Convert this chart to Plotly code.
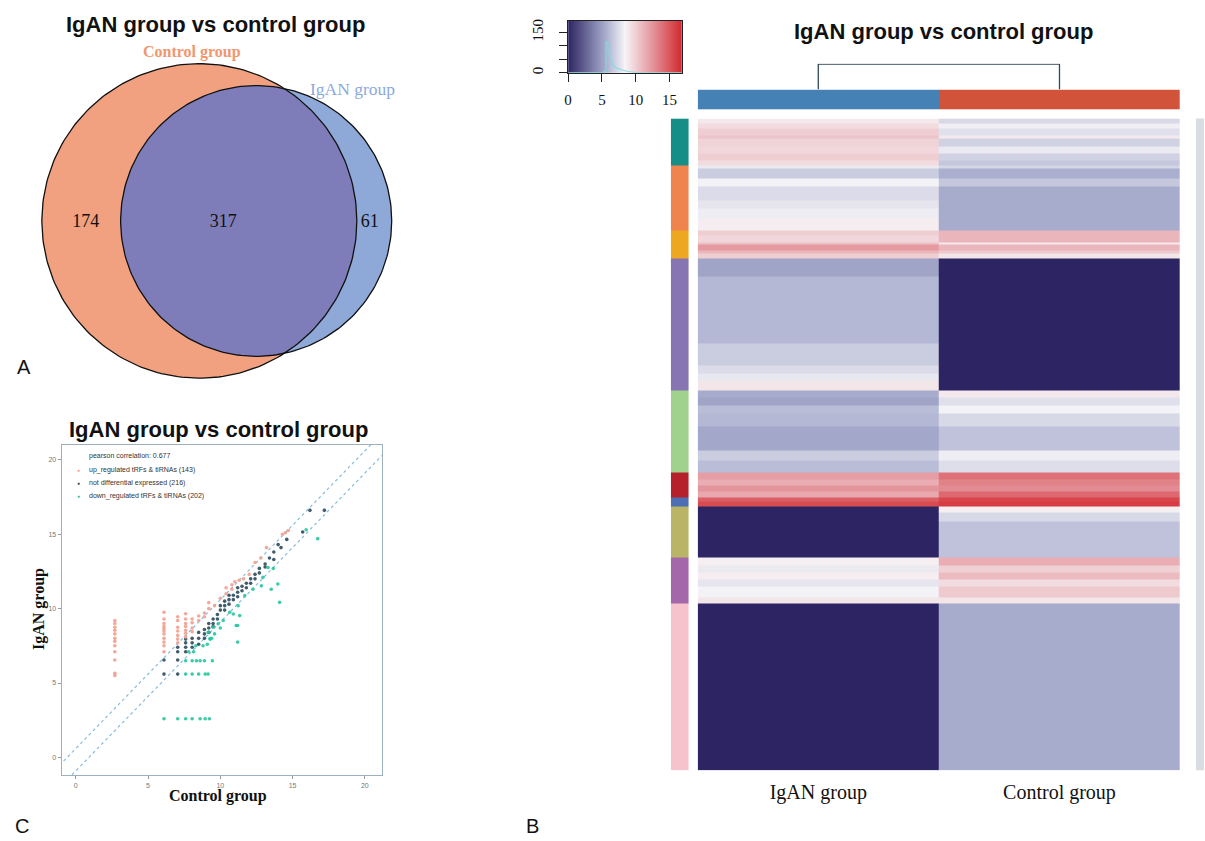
import numpy as np
import plotly.graph_objects as go

W, H = 1205, 841


def fx(px):
    return px / W


def fy(py):
    return 1 - py / H


SANS = "Liberation Sans"
SERIF = "Liberation Serif"

# ---------------- Venn data (panel A) ----------------
venn_sets = ["Control group", "IgAN group"]
venn_counts = [174, 317, 61]          # control only, shared, IgAN only
venn_fill = ["#F1A17F", "#8EA8D7", "#7E7DBA"]

# ---------------- Scatter data (panel C) ----------------
up_x = [2.7, 2.7, 2.7, 2.7, 2.7, 2.7, 2.7, 2.7, 2.7, 2.7, 2.7, 2.7,
        6.1, 6.1, 6.1, 6.1, 6.1, 6.1, 6.1, 6.1, 6.1, 6.1, 6.1,
        7.05, 7.05, 7.05, 7.05, 7.05, 7.05, 7.05,
        7.6, 7.6, 7.6, 7.6, 7.6, 7.6, 7.6,
        8.05, 8.05, 8.05, 8.05, 8.5, 8.5, 8.9, 8.9, 9.2, 9.2, 9.6, 10.0,
        10.4, 10.4, 10.8, 10.8, 11.0, 11.3, 11.6, 12.0, 12.4, 12.8, 13.2,
        14.3, 14.5, 14.7]
up_y = [9.2, 9.0, 8.75, 8.55, 8.3, 8.0, 7.8, 7.5, 7.1, 6.55, 5.65, 5.5,
        9.75, 9.3, 9.0, 8.8, 8.65, 8.5, 8.3, 8.0, 7.75, 7.5, 7.1,
        9.45, 9.2, 8.75, 8.5, 8.2, 7.95, 7.7,
        9.65, 9.3, 9.0, 8.8, 8.55, 8.35, 8.1,
        9.3, 9.05, 8.7, 8.45, 9.5, 9.2, 9.7, 9.45, 10.4, 10.0, 10.2, 10.7,
        11.4, 11.0, 11.6, 11.3, 11.8, 11.9, 12.0, 12.3, 13.1, 13.4, 14.1,
        15.0, 15.1, 15.25]

nd_x = [6.1, 6.1, 7.05, 7.05, 7.05, 7.05, 7.6, 7.6, 7.6, 7.6, 8.05, 8.05, 8.05,
        8.5, 8.5, 8.5, 8.9, 8.9, 8.9, 9.2, 9.2, 9.2, 9.5, 9.5, 9.5, 9.8, 9.8,
        10.0, 10.0, 10.3, 10.3, 10.3, 10.6, 10.6, 10.6, 10.9, 10.9,
        11.2, 11.2, 11.2, 11.5, 11.5, 11.8, 11.8, 12.1, 12.1, 12.4, 12.4,
        12.7, 12.7, 13.1, 13.1, 13.4, 13.7, 13.7, 14.0, 14.2, 14.6, 15.7,
        16.2, 17.2]
nd_y = [6.55, 5.6, 7.4, 7.1, 6.55, 5.6, 7.95, 7.7, 7.4, 7.1, 8.0, 7.7, 7.4,
        8.4, 8.0, 7.6, 8.6, 8.3, 8.0, 9.0, 8.7, 8.4, 9.3, 9.0, 8.8, 9.6, 9.3,
        9.9, 10.2, 10.2, 9.9, 10.5, 10.6, 10.3, 10.9, 10.9, 10.6,
        11.1, 11.4, 10.8, 11.5, 11.2, 11.7, 11.4, 12.0, 11.7, 12.3, 12.0,
        12.7, 12.4, 13.0, 12.8, 13.4, 13.8, 13.3, 14.3, 14.1, 14.65, 15.15,
        16.6, 16.6]

dn_x = [6.1, 7.05, 7.6, 8.05, 8.6, 8.95, 9.25,
        7.6, 8.05, 8.5, 8.95, 9.15,
        7.6, 8.05, 8.35, 8.6, 8.9, 9.45,
        7.8, 8.15, 8.3, 8.8, 9.1, 11.2,
        9.4, 9.6, 9.3, 9.5, 9.85, 10.2, 10.0, 11.1, 11.2, 10.9, 11.34,
        10.65, 11.23, 11.69, 12.26, 12.84, 13.52, 13.98, 14.1, 12.95,
        13.3, 13.66, 15.94, 16.74, 9.16, 9.28]
dn_y = [2.6, 2.6, 2.6, 2.6, 2.6, 2.6, 2.6,
        5.6, 5.6, 5.6, 5.6, 5.6,
        6.5, 6.5, 6.5, 6.5, 6.5, 6.5,
        7.1, 7.1, 7.5, 7.5, 7.6, 7.75,
        8.0, 8.3, 7.95, 8.75, 8.98, 9.2, 8.7, 8.86, 8.86, 9.64, 9.53,
        9.75, 10.2, 10.87, 11.3, 11.53, 11.3, 11.65, 10.42, 12.1,
        12.76, 12.69, 15.3, 14.7, 8.4, 7.97]

scatter_names = ["up_regulated tRFs & tiRNAs", "not differential expressed",
                 "down_regulated tRFs & tiRNAs"]
scatter_counts = [143, 216, 202]
scatter_colors = ["#F29F8E", "#2C4A5C", "#27C79E"]
pearson_r = 0.677
fold_lines = [0.6, -0.9]

# ---------------- Heatmap data (panel B) ----------------
groups = ["IgAN group", "Control group"]
group_colors = ["#4581B5", "#D1533A"]
cluster_colors = ["#158E87", "#F0844F", "#EEA721", "#8674B3", "#A0D28E",
                  "#B5202A", "#4D6EB3", "#BAB566", "#A468AA", "#F6C3CD"]
stripe_cluster = [0, 0, 0, 0, 0, 0, 0, 0,
                  1, 1, 1, 1, 1, 1, 1,
                  2, 2, 2, 2, 2, 2,
                  3, 3, 3, 3, 3, 3,
                  4, 4, 4, 4, 4, 4, 4,
                  5, 5, 5, 5,
                  6, 6,
                  7, 7, 7,
                  8, 8, 8, 8, 8, 8,
                  9]
stripe_rows = [5, 5, 7, 3, 8, 7, 7, 5,
               3, 10, 8, 15, 8, 10, 12,
               5, 7, 2, 6, 3, 5,
               18, 67, 23, 8, 7, 10,
               7, 8, 8, 13, 24, 10, 12,
               7, 6, 6, 6,
               4, 5,
               6, 10, 36,
               8, 7, 7, 7, 11, 6,
               168]
igan_expr = [8.8, 9.4, 10.0, 10.4, 9.8, 9.6, 10.0, 9.4,
             8.0, 6.8, 8.3, 7.4, 7.8, 8.1, 8.7,
             10.0, 9.6, 10.6, 12.2, 11.0, 10.0,
             5.2, 6.0, 6.8, 7.4, 7.9, 9.0,
             5.5, 5.2, 6.2, 6.0, 5.3, 6.8, 6.2,
             12.0, 11.4, 12.4, 11.6,
             14.6, 15.4,
             0.0, 0.0, 0.0,
             8.6, 8.0, 8.7, 7.8, 8.3, 9.0,
             0.0]
control_expr = [7.3, 8.2, 7.6, 8.8, 7.0, 8.0, 7.0, 6.6,
                7.2, 5.6, 6.6, 5.5, 5.5, 5.5, 5.5,
                11.0, 11.0, 8.8, 11.0, 10.2, 9.0,
                0.0, 0.0, 0.0, 0.0, 0.0, 0.0,
                8.9, 7.6, 8.3, 7.3, 6.4, 8.1, 7.5,
                13.8, 13.2, 12.8, 14.2,
                15.6, 16.0,
                8.6, 7.3, 6.4,
                11.4, 9.9, 10.8, 9.4, 10.2, 9.0,
                5.5]
dendro_height = 1.0
key_range = [0, 16.8]
key_ticks = [0, 5, 10, 15]
key_count_ticks = [0, 50, 100, 150]
key_hist_x = [0.15, 4.85, 5.15, 5.45, 5.75, 6.05, 6.35, 6.65, 6.95, 7.25, 7.55,
              7.85, 8.15, 8.45, 8.75, 9.05, 9.35, 9.65, 9.95, 10.25, 16.65]
key_hist_count = [0, 0, 2, 6, 116, 72, 44, 28, 20, 16, 14,
                  11, 9, 7, 5, 4, 3, 2, 1, 0, 0]

heat_colorscale = [[0.0, "#2D2563"], [0.33, "#A8ADCE"], [0.5, "#F6F4F7"],
                   [0.74, "#E4949B"], [1.0, "#D3282E"]]

fig = go.Figure()

# ================= Panel A: Venn =================
ctrl_c, ctrl_r = (196.0, 220.0), 158.0
igan_c, igan_r = (253.0, 220.0), 136.0


def circle(c, r, a0=0, a1=2 * np.pi, n=240):
    t = np.linspace(a0, a1, n)
    return c[0] + r * np.cos(t), c[1] + r * np.sin(t)


d = igan_c[0] - ctrl_c[0]
a = (d ** 2 + ctrl_r ** 2 - igan_r ** 2) / (2 * d)
h = np.sqrt(ctrl_r ** 2 - a ** 2)
th1 = np.arctan2(h, a)
th2 = np.arctan2(h, a - d)
lx1, ly1 = circle(ctrl_c, ctrl_r, -th1, th1)
lx2, ly2 = circle(igan_c, igan_r, th2, 2 * np.pi - th2)
lens_x = np.concatenate([lx1, lx2])
lens_y = np.concatenate([ly1, ly2])

cx, cy = circle(ctrl_c, ctrl_r)
ix, iy = circle(igan_c, igan_r)
for xs, ys, col in [(cx, cy, venn_fill[0]), (ix, iy, venn_fill[1]),
                    (lens_x, lens_y, venn_fill[2])]:
    fig.add_trace(go.Scatter(x=xs, y=ys, mode="lines", fill="toself",
                             fillcolor=col, line=dict(width=0),
                             xaxis="x", yaxis="y", hoverinfo="skip",
                             showlegend=False))
for xs, ys in [(cx, cy), (ix, iy)]:
    fig.add_trace(go.Scatter(x=xs, y=ys, mode="lines",
                             line=dict(color="#111111", width=1.3),
                             xaxis="x", yaxis="y", hoverinfo="skip",
                             showlegend=False))
venn_text_x = [ctrl_c[0] - ctrl_r + 44, (ctrl_c[0] + igan_c[0]) / 2 - 4.5,
               igan_c[0] + igan_r - 22]
fig.add_trace(go.Scatter(x=venn_text_x, y=[222, 222, 222], mode="text",
                         text=[str(v) for v in venn_counts],
                         textfont=dict(family=SERIF, size=18, color="#111111"),
                         xaxis="x", yaxis="y", hoverinfo="skip",
                         showlegend=False))

# ================= Panel C: scatter =================
for off in fold_lines:
    fig.add_trace(go.Scatter(x=[-2, 23], y=[-2 + off, 23 + off], mode="lines",
                             line=dict(color="#86BCDD", width=1.2, dash="dot"),
                             xaxis="x2", yaxis="y2", hoverinfo="skip",
                             showlegend=False))
for xs, ys, col, nm in [(nd_x, nd_y, scatter_colors[1], scatter_names[1]),
                        (up_x, up_y, scatter_colors[0], scatter_names[0]),
                        (dn_x, dn_y, scatter_colors[2], scatter_names[2])]:
    fig.add_trace(go.Scatter(x=xs, y=ys, mode="markers", name=nm,
                             marker=dict(color=col, size=3.6, opacity=0.9),
                             xaxis="x2", yaxis="y2", showlegend=False))

# ================= Panel B: heatmap =================
row_edges = np.concatenate([[0], np.cumsum(stripe_rows)])
total_rows = float(row_edges[-1])
fig.add_trace(go.Heatmap(
    z=[[g, c] for g, c in zip(igan_expr, control_expr)],
    x=[0, 1, 2], y=row_edges, zmin=key_range[0], zmax=key_range[1],
    colorscale=heat_colorscale, showscale=False, xaxis="x3", yaxis="y3",
    hoverinfo="skip"))

cluster_rows = [sum(r for r, c in zip(stripe_rows, stripe_cluster) if c == k)
                for k in range(len(cluster_colors))]
cluster_edges = np.concatenate([[0], np.cumsum(cluster_rows)])
nclu = len(cluster_colors)
clu_scale = []
for k, col in enumerate(cluster_colors):
    clu_scale += [[k / nclu, col], [(k + 1) / nclu, col]]
fig.add_trace(go.Heatmap(
    z=[[k] for k in range(nclu)], x=[0, 1], y=cluster_edges,
    zmin=-0.5, zmax=nclu - 0.5, colorscale=clu_scale, showscale=False,
    xaxis="x5", yaxis="y5", hoverinfo="skip"))

fig.add_trace(go.Heatmap(
    z=[[0, 1]], x=[0, 1, 2], y=[0, 1], zmin=-0.5, zmax=1.5,
    colorscale=[[0, group_colors[0]], [0.5, group_colors[0]],
                [0.5, group_colors[1]], [1, group_colors[1]]],
    showscale=False, xaxis="x3", yaxis="y4", hoverinfo="skip"))

fig.add_trace(go.Scatter(x=[0.5, 0.5, 1.5, 1.5],
                         y=[0, dendro_height, dendro_height, 0],
                         mode="lines", line=dict(color="#2F4858", width=1.3),
                         xaxis="x3", yaxis="y6", hoverinfo="skip",
                         showlegend=False))

# colour key
key_edges = np.linspace(key_range[0], key_range[1], 171)
key_mid = (key_edges[:-1] + key_edges[1:]) / 2
fig.add_trace(go.Heatmap(z=[key_mid], x=key_edges, y=[0, 193],
                         zmin=key_range[0], zmax=key_range[1],
                         colorscale=heat_colorscale, showscale=False,
                         xaxis="x7", yaxis="y7", hoverinfo="skip"))
fig.add_trace(go.Scatter(x=key_hist_x, y=key_hist_count, mode="lines",
                         line=dict(color="#86D9DC", width=1, shape="hvh"),
                         xaxis="x7", yaxis="y7", hoverinfo="skip",
                         showlegend=False))

hidden = dict(visible=False, showgrid=False, zeroline=False)
small_tick = dict(family=SANS, size=7, color="#777777")

fig.update_layout(
    width=W, height=H, margin=dict(l=0, r=0, t=0, b=0),
    paper_bgcolor="white", plot_bgcolor="white", showlegend=False,
    xaxis=dict(domain=[0, fx(420)], range=[0, 420], anchor="y", **hidden),
    yaxis=dict(domain=[fy(390), 1], range=[390, 0], anchor="x", **hidden),
    xaxis2=dict(domain=[fx(58), fx(379)], range=[-0.97, 21.17], anchor="y2",
                showgrid=False, zeroline=False, showline=True, mirror=True,
                linecolor="#9DB0BE", linewidth=1.3, ticks="outside",
                ticklen=3, tickcolor="#999999", tickvals=[0, 5, 10, 15, 20],
                tickfont=small_tick),
    yaxis2=dict(domain=[fy(777), fy(445)], range=[-1.2, 21.0], anchor="x2",
                showgrid=False, zeroline=False, showline=True, mirror=True,
                linecolor="#9DB0BE", linewidth=1.3, ticks="outside",
                ticklen=3, tickcolor="#999999", tickvals=[0, 5, 10, 15, 20],
                tickfont=small_tick),
    xaxis3=dict(domain=[fx(696), fx(1180)], range=[0, 2], anchor="y3",
                showgrid=False, zeroline=False, showline=False,
                tickvals=[0.5, 1.5], ticktext=groups, ticks="",
                ticklabelstandoff=8,
                tickfont=dict(family=SERIF, size=20, color="#111111")),
    yaxis3=dict(domain=[fy(772), fy(117)], range=[total_rows, 0],
                anchor="x3", **hidden),
    yaxis4=dict(domain=[fy(108), fy(88)], range=[0, 1], anchor="x3", **hidden),
    yaxis6=dict(domain=[fy(88), fy(62)], range=[0, dendro_height * 1.02],
                anchor="x3", **hidden),
    xaxis5=dict(domain=[fx(669), fx(687)], range=[0, 1], anchor="y5",
                **hidden),
    yaxis5=dict(domain=[fy(772), fy(117)], range=[total_rows, 0],
                anchor="x5", **hidden),
    xaxis7=dict(domain=[fx(566), fx(680)], range=key_range, anchor="y7",
                showgrid=False, zeroline=False, showline=True, mirror=True,
                linecolor="#222222", linewidth=1, ticks="outside", ticklen=8,
                tickcolor="#222222", tickvals=key_ticks, ticklabelstandoff=5,
                tickfont=dict(family=SERIF, size=15, color="#111111")),
    yaxis7=dict(domain=[fy(71), fy(19)], range=[0, 193], anchor="x7",
                showgrid=False, zeroline=False, showline=True, mirror=True,
                linecolor="#222222", linewidth=1, ticks="outside", ticklen=8,
                tickcolor="#222222", tickvals=key_count_ticks,
                ticktext=["0", "", "", "150"], tickangle=-90,
                ticklabelstandoff=10,
                tickfont=dict(family=SERIF, size=15, color="#111111")),
)

fig.add_shape(type="rect", xref="paper", yref="paper", x0=fx(1196), x1=fx(1204),
              y0=fy(772), y1=fy(117), fillcolor="#D8DDE1", line=dict(width=0),
              layer="below")


def ann(text, x, y, size, family=SANS, color="#111111", xanchor="center",
        textangle=0):
    fig.add_annotation(text=text, x=fx(x), y=fy(y), xref="paper", yref="paper",
                       showarrow=False, xanchor=xanchor, yanchor="middle",
                       textangle=textangle,
                       font=dict(family=family, size=size, color=color))


title = "<b>IgAN group vs control group</b>"
ann(title, 212, 23, 22)
ann("<b>" + venn_sets[0] + "</b>", 189, 50, 16, SERIF, "#F0976F")
ann(venn_sets[1], 350, 87, 17.5, SERIF, "#8DAADB")
ann("A", 20, 367, 20)

ann(title, 215, 430, 22)
ann("pearson correlation: %.3f" % pearson_r, 83, 456, 7, SANS, "#333333",
    "left")
for i, (nm, cnt, col) in enumerate(zip(scatter_names, scatter_counts,
                                        scatter_colors)):
    yy = 470 + i * 13
    ann("●", 75, yy, 5, SANS, col)
    ann("%s (%d)" % (nm, cnt), 83, yy, 7, SANS, "#333333", "left")
ann("<b>Control group</b>", 215, 798, 16, SERIF)
ann("<b>IgAN group</b>", 35, 610, 16, SERIF, textangle=-90)
ann("C", 18, 828, 20)

ann(title, 943, 30, 22)
ann("B", 530, 828, 20)

fig.write_html("out.html",
               config={"displayModeBar": False},
               post_script="document.body.style.margin='0';"
                           "document.body.style.padding='0';"
                           "document.body.style.overflow='hidden';")
